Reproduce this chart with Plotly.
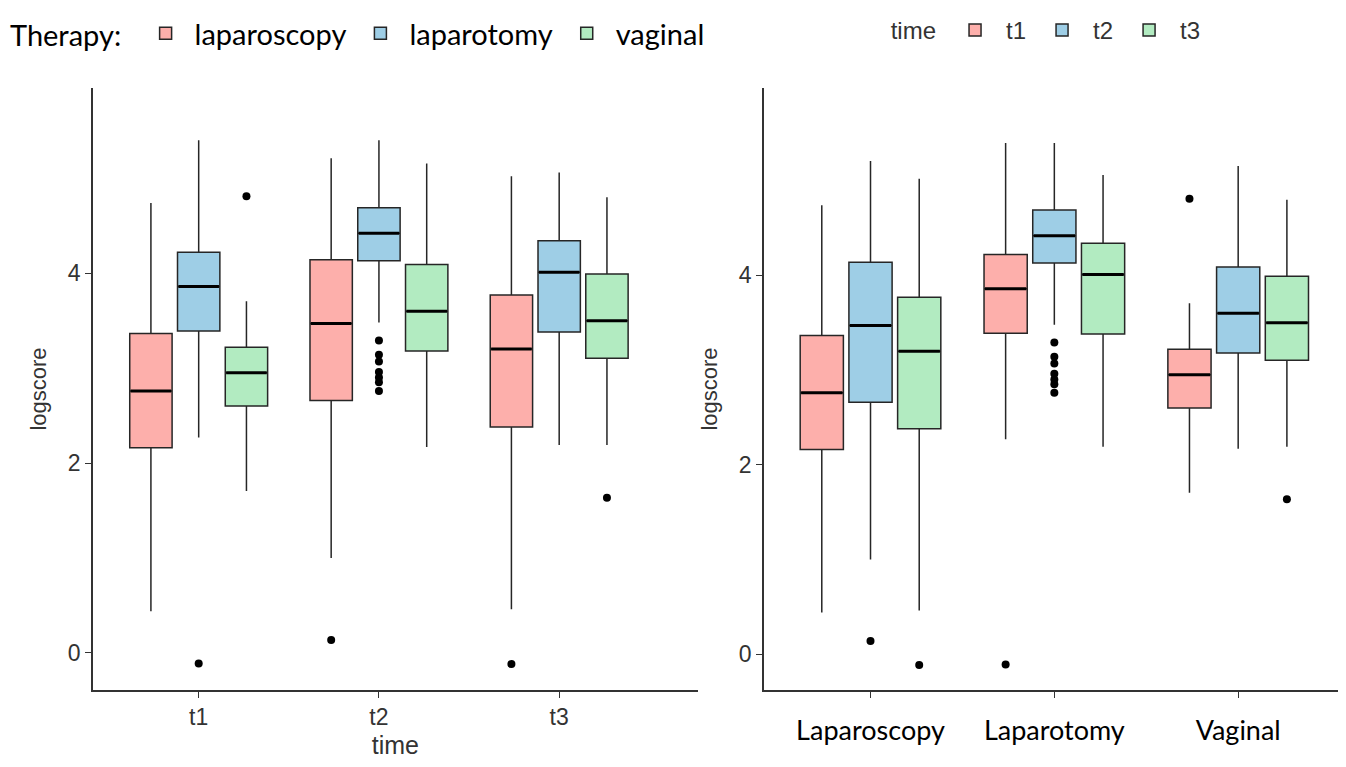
import plotly.graph_objects as go

# ---------------- data ----------------
times = ["t1", "t2", "t3"]
therapies = ["laparoscopy", "laparotomy", "vaginal"]
therapy_labels = ["Laparoscopy", "Laparotomy", "Vaginal"]

# box statistics per therapy, listed in time order t1, t2, t3
q1 = {"laparoscopy": [2.16, 2.66, 2.38], "laparotomy": [3.39, 4.13, 3.38], "vaginal": [2.60, 3.18, 3.105]}
median = {"laparoscopy": [2.76, 3.47, 3.20], "laparotomy": [3.86, 4.42, 4.01], "vaginal": [2.95, 3.60, 3.50]}
q3 = {"laparoscopy": [3.365, 4.14, 3.77], "laparotomy": [4.22, 4.69, 4.34], "vaginal": [3.22, 4.09, 3.99]}
lower = {"laparoscopy": [0.44, 1.00, 0.46], "laparotomy": [2.27, 3.48, 2.19], "vaginal": [1.705, 2.17, 2.19]}
upper = {"laparoscopy": [4.74, 5.21, 5.02], "laparotomy": [5.40, 5.40, 5.06], "vaginal": [3.705, 5.155, 4.80]}

# outliers: therapy, time, value
out_therapy = ["laparotomy", "vaginal", "laparoscopy", "laparotomy", "laparotomy", "laparotomy",
               "laparotomy", "laparotomy", "laparotomy", "laparotomy", "laparoscopy", "vaginal"]
out_time = ["t1", "t1", "t2", "t2", "t2", "t2", "t2", "t2", "t2", "t2", "t3", "t3"]
out_value = [-0.11, 4.81, 0.137, 3.29, 3.14, 3.07, 2.96, 2.90, 2.85, 2.76, -0.116, 1.635]

colors = ["#FDAFAB", "#9ECEE6", "#B2EBC1"]
DODGE = 0.265
BOXW = 0.235

fig = go.Figure()


def add_panel(xaxis, yaxis, outer, inner, outer_key, legend, legend_names):
    # outer: categories on the axis; inner: grouped (coloured) variable
    for j, g in enumerate(inner):
        xs, q1s, ms, q3s, los, ups = [], [], [], [], [], []
        for i, c in enumerate(outer):
            th = c if outer_key == "therapy" else g
            tm = c if outer_key == "time" else g
            ti = times.index(tm)
            xs.append(i + (j - 1) * DODGE)
            q1s.append(q1[th][ti]); ms.append(median[th][ti]); q3s.append(q3[th][ti])
            los.append(lower[th][ti]); ups.append(upper[th][ti])
        fig.add_trace(go.Box(
            x=xs, q1=q1s, median=ms, q3=q3s, lowerfence=los, upperfence=ups,
            width=BOXW, whiskerwidth=0, fillcolor=colors[j],
            line=dict(color="#262626", width=1.5), boxpoints=False,
            name=legend_names[j], legend=legend, showlegend=True,
            xaxis=xaxis, yaxis=yaxis, hoverinfo="skip"))
        # thicker median bar (ggplot style)
        mx, my = [], []
        for x0, m in zip(xs, ms):
            mx += [x0 - BOXW / 2 + 0.005, x0 + BOXW / 2 - 0.005, None]
            my += [m, m, None]
        fig.add_trace(go.Scatter(x=mx, y=my, mode="lines", line=dict(color="black", width=3),
                                 showlegend=False, xaxis=xaxis, yaxis=yaxis, hoverinfo="skip"))
        ox, oy = [], []
        for th, tm, v in zip(out_therapy, out_time, out_value):
            gval = th if outer_key == "time" else tm
            cval = tm if outer_key == "time" else th
            if gval == g:
                ox.append(outer.index(cval) + (j - 1) * DODGE)
                oy.append(v)
        if ox:
            fig.add_trace(go.Scatter(
                x=ox, y=oy, mode="markers", marker=dict(color="black", size=8),
                showlegend=False, xaxis=xaxis, yaxis=yaxis, hoverinfo="skip"))


# left panel: x = time, colour = therapy
add_panel("x", "y", times, therapies, "time", "legend", therapies)
# right panel: x = therapy, colour = time
add_panel("x2", "y2", therapies, times, "therapy", "legend2", times)

W, H = 1346, 767
OFF = 8  # page body margin


def fx(px):
    return (px - OFF) / W


def fy(py):
    return 1 - (py - OFF) / H


axis_common = dict(showline=True, linecolor="#333333", linewidth=1.5, ticks="outside",
                   ticklen=6, tickwidth=1.3, tickcolor="#333333", showgrid=False, zeroline=False,
                   mirror=False)

tickfont_arial = dict(family="Liberation Sans, Arial", size=23, color="#333333")
ytitlefont = dict(family="Liberation Sans, Arial", size=22, color="#333333")
xtitlefont = dict(family="Liberation Sans, Arial", size=25, color="#333333")

fig.update_layout(
    width=W, height=H,
    paper_bgcolor="white", plot_bgcolor="white",
    margin=dict(l=0, r=0, t=0, b=0),
    boxmode="overlay",
    xaxis=dict(domain=[fx(91), fx(697)], range=[-0.587, 2.77], tickvals=[0, 1, 2], ticktext=times,
               tickfont=tickfont_arial, title=dict(text="time", font=xtitlefont, standoff=7),
               anchor="y", **axis_common),
    yaxis=dict(domain=[fy(690), fy(88)], range=[-0.39, 5.95], tickvals=[0, 2, 4],
               tickfont=tickfont_arial, title=dict(text="logscore", font=ytitlefont, standoff=15),
               anchor="x", **axis_common),
    xaxis2=dict(domain=[fx(763), 1.0], range=[-0.58, 2.63], tickvals=[0, 1, 2], ticktext=therapy_labels,
                tickfont=dict(family="Lato", size=27, color="black"), ticklabelstandoff=10,
                anchor="y2", **axis_common),
    yaxis2=dict(domain=[fy(690), fy(88)], range=[-0.38, 5.98], tickvals=[0, 2, 4],
                tickfont=tickfont_arial, title=dict(text="logscore", font=ytitlefont, standoff=15),
                anchor="x2", **axis_common),
    legend=dict(orientation="h", x=-2 / W, xanchor="left", y=1, yanchor="top",
                itemwidth=48,
                title=dict(text="Therapy: ", font=dict(family="Lato", size=29, color="black")),
                font=dict(family="Lato", size=29, color="black"), bgcolor="rgba(0,0,0,0)"),
    legend2=dict(orientation="h", x=880 / W, xanchor="left", y=1, yanchor="top",
                 itemwidth=52,
                 title=dict(text="time", font=dict(family="Liberation Sans, Arial", size=24, color="#333333")),
                 font=dict(family="Liberation Sans, Arial", size=24, color="#333333"), bgcolor="rgba(0,0,0,0)"),
)

fig.write_html("out.html")
